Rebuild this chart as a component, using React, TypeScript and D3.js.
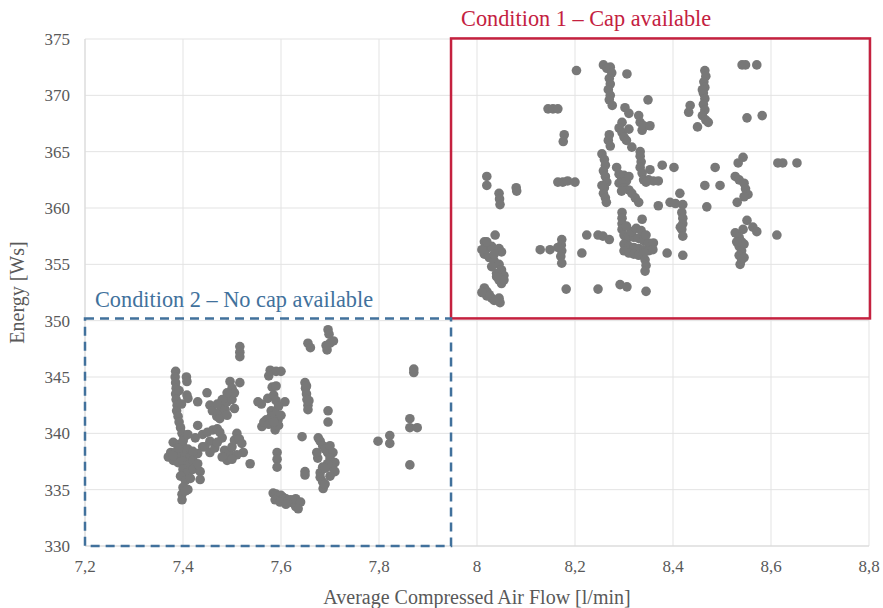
import * as d3 from 'd3';

// Condition 1 – cap available (x: l/min, y: Ws)
const capLeft: [number, number][] = [
    [8.02, 362.8], [8.02, 362.0], [8.045, 361.3], [8.046, 360.8], [8.047, 360.3], [8.08, 361.8], [8.081, 361.5],
    [8.037, 357.6], [8.015, 357.0], [8.02, 356.4], [8.03, 356.6], [8.045, 356.4], [8.05, 356.1], [8.015, 355.9],
    [8.025, 355.6], [8.035, 355.3], [8.045, 355.0], [8.05, 354.5], [8.055, 354.0], [8.03, 354.8], [8.04, 354.2],
    [8.045, 353.6], [8.05, 353.3], [8.055, 353.6], [8.04, 353.9], [8.035, 355.9], [8.02, 357.0], [8.01, 356.3],
    [8.015, 352.9], [8.02, 352.6], [8.025, 352.3], [8.03, 352.0], [8.035, 351.8], [8.047, 351.6], [8.02, 352.2],
    [8.01, 352.5], [8.045, 352.0],
];

const capMiddle: [number, number][] = [
    [8.129, 356.3], [8.149, 356.3], [8.173, 357.2], [8.172, 356.7], [8.173, 356.2], [8.171, 355.7], [8.173, 355.1],
    [8.165, 356.5], [8.182, 352.8], [8.165, 362.3], [8.175, 362.3], [8.185, 362.4], [8.2, 362.3], [8.178, 366.5],
    [8.176, 365.9], [8.145, 368.8], [8.155, 368.8], [8.165, 368.8], [8.203, 372.2], [8.214, 356.0], [8.224, 357.6],
    [8.247, 357.6], [8.257, 357.5], [8.27, 357.2], [8.247, 352.8], [8.292, 353.2], [8.306, 353.0], [8.345, 352.6],
    [8.258, 372.7], [8.265, 372.4], [8.272, 372.5], [8.275, 372.0], [8.27, 371.5], [8.272, 371.0], [8.268, 370.5],
    [8.272, 370.0], [8.27, 369.6], [8.276, 369.1], [8.306, 371.9], [8.349, 369.6], [8.302, 368.9], [8.31, 368.4],
    [8.33, 368.2], [8.333, 367.6], [8.337, 366.9], [8.34, 367.3], [8.353, 367.3], [8.296, 367.6], [8.29, 367.1],
    [8.296, 366.7], [8.3, 366.3], [8.305, 366.0], [8.316, 365.4], [8.31, 367.0], [8.27, 366.5], [8.268, 366.0],
    [8.272, 365.5],
    [8.255, 364.8], [8.26, 364.3], [8.262, 363.8], [8.258, 363.3], [8.262, 362.8], [8.265, 362.3], [8.26, 361.8],
    [8.258, 361.3], [8.262, 360.9], [8.264, 360.5], [8.255, 362.0],
    [8.29, 363.0], [8.295, 362.7], [8.3, 362.9], [8.305, 362.4], [8.31, 362.8], [8.29, 362.2], [8.3, 361.8],
    [8.31, 361.6], [8.295, 361.5], [8.285, 363.6],
    [8.333, 365.0], [8.333, 364.6], [8.335, 364.1], [8.333, 363.6], [8.337, 363.1], [8.353, 363.4],
    [8.34, 362.5], [8.35, 362.5], [8.36, 362.4], [8.37, 362.4], [8.345, 362.3], [8.378, 363.8], [8.402, 363.6],
    [8.316, 361.3], [8.323, 360.9], [8.33, 360.5], [8.37, 360.2], [8.394, 360.5], [8.405, 360.4], [8.42, 360.3],
    [8.414, 361.3], [8.418, 359.6], [8.42, 359.1], [8.42, 358.6], [8.418, 358.1], [8.42, 357.5], [8.415, 358.3],
    [8.337, 359.0],
    [8.296, 359.6], [8.296, 359.1], [8.296, 358.6], [8.296, 358.1], [8.3, 357.6], [8.305, 357.2], [8.31, 357.5],
    [8.32, 357.4], [8.33, 357.3], [8.34, 357.1], [8.35, 356.9], [8.36, 356.9], [8.3, 356.8], [8.31, 356.6],
    [8.32, 356.5], [8.33, 356.4], [8.34, 356.3], [8.35, 356.2], [8.359, 356.3], [8.3, 356.2], [8.31, 356.0],
    [8.32, 355.9], [8.33, 355.8], [8.34, 356.0], [8.315, 357.9], [8.325, 358.2], [8.335, 358.0], [8.305, 358.4],
    [8.345, 357.6], [8.343, 355.4], [8.345, 354.9], [8.343, 354.4], [8.388, 356.0], [8.42, 355.8],
];

const capRight: [number, number][] = [
    [8.465, 372.2], [8.467, 371.7], [8.463, 371.2], [8.465, 370.7], [8.462, 370.2], [8.465, 369.7], [8.462, 369.2],
    [8.465, 368.7], [8.46, 368.2], [8.467, 367.8], [8.472, 367.6], [8.46, 370.5], [8.435, 369.1], [8.432, 368.5],
    [8.45, 367.2], [8.541, 372.7], [8.548, 372.7], [8.571, 372.7], [8.551, 368.0], [8.582, 368.2], [8.614, 364.0],
    [8.624, 364.0], [8.653, 364.0], [8.543, 364.5], [8.533, 364.0], [8.486, 363.6], [8.465, 362.0], [8.496, 362.0],
    [8.469, 360.1], [8.527, 362.8], [8.535, 362.5], [8.545, 362.2], [8.548, 361.7], [8.553, 361.2], [8.545, 361.0],
    [8.531, 360.5], [8.551, 358.9], [8.563, 358.3], [8.571, 357.9], [8.612, 357.6], [8.543, 358.1],
    [8.527, 357.8], [8.535, 357.4], [8.54, 357.0], [8.535, 356.6], [8.54, 356.2], [8.535, 355.8], [8.54, 355.4],
    [8.537, 355.0], [8.545, 356.8], [8.53, 357.0], [8.545, 355.6],
];

// Condition 2 – no cap available
const noCapLeft: [number, number][] = [
    [7.385, 345.5], [7.384, 345.0], [7.385, 344.5], [7.386, 344.0], [7.385, 343.5], [7.386, 343.0], [7.388, 342.5],
    [7.387, 342.0], [7.39, 341.5], [7.392, 341.0], [7.395, 340.5], [7.398, 340.0], [7.402, 339.6], [7.407, 345.0],
    [7.408, 344.6], [7.408, 343.4], [7.41, 343.1], [7.397, 342.6], [7.392, 343.8],
    [7.38, 339.2], [7.39, 339.0], [7.4, 338.8], [7.41, 338.6], [7.375, 338.3], [7.385, 338.3], [7.395, 338.1],
    [7.405, 338.0], [7.415, 337.9], [7.37, 337.9], [7.38, 337.6], [7.39, 337.4], [7.4, 337.5], [7.41, 337.2],
    [7.42, 337.6], [7.43, 338.2], [7.42, 338.4], [7.4, 336.8], [7.41, 336.5], [7.395, 336.2], [7.405, 335.8],
    [7.415, 336.0], [7.42, 336.8], [7.435, 336.6], [7.435, 335.9], [7.41, 335.0], [7.4, 335.2], [7.398, 334.6],
    [7.398, 334.1], [7.405, 334.9], [7.39, 338.7], [7.38, 338.0], [7.4, 339.3], [7.41, 339.9], [7.43, 340.7],
    [7.425, 339.6], [7.44, 338.8], [7.43, 337.3], [7.43, 342.8],
];

const noCapMiddle: [number, number][] = [
    [7.449, 343.6], [7.455, 342.5], [7.46, 342.0], [7.469, 341.5], [7.475, 341.9], [7.48, 342.4], [7.486, 342.1],
    [7.49, 342.8], [7.495, 343.3], [7.5, 343.0], [7.496, 344.6], [7.5, 344.0], [7.505, 343.6], [7.49, 343.6],
    [7.48, 343.0], [7.47, 342.6], [7.475, 341.3], [7.49, 341.6], [7.516, 344.5], [7.505, 342.2],
    [7.516, 347.7], [7.516, 347.2], [7.516, 346.8],
    [7.44, 339.9], [7.45, 340.1], [7.461, 340.3], [7.47, 340.4], [7.475, 340.1], [7.48, 339.6], [7.455, 339.3],
    [7.445, 338.8], [7.455, 338.3], [7.465, 338.7], [7.47, 339.2], [7.485, 338.5], [7.49, 337.6], [7.495, 338.2],
    [7.5, 338.8], [7.505, 339.4], [7.51, 340.0], [7.515, 339.5], [7.52, 339.1], [7.523, 338.3], [7.51, 338.1],
    [7.5, 337.7], [7.537, 337.3], [7.48, 337.9],
    [7.578, 345.6], [7.59, 345.5], [7.6, 345.5], [7.575, 345.1], [7.582, 344.1], [7.59, 344.2], [7.573, 343.1],
    [7.553, 342.8], [7.56, 342.6], [7.585, 343.4], [7.59, 342.9], [7.608, 342.8], [7.595, 342.4], [7.58, 342.0],
    [7.59, 341.7], [7.58, 341.5], [7.594, 341.2], [7.57, 341.2], [7.561, 340.6], [7.565, 341.0], [7.575, 340.8],
    [7.588, 340.3], [7.595, 340.7], [7.6, 341.6], [7.585, 341.0],
    [7.592, 338.3], [7.592, 337.7], [7.592, 337.0],
    [7.584, 334.7], [7.59, 334.6], [7.595, 334.4], [7.6, 334.5], [7.605, 334.3], [7.61, 334.2], [7.615, 334.0],
    [7.62, 334.1], [7.625, 333.8], [7.63, 333.5], [7.63, 334.2], [7.64, 333.9], [7.635, 333.3], [7.588, 334.1],
    [7.598, 333.9], [7.61, 333.7],
];

const noCapRight: [number, number][] = [
    [7.649, 344.5], [7.65, 344.0], [7.652, 343.5], [7.653, 343.0], [7.655, 342.5], [7.655, 342.1], [7.657, 342.9],
    [7.652, 344.2], [7.655, 348.0], [7.66, 347.6], [7.696, 349.2], [7.698, 348.8], [7.694, 347.4], [7.7, 348.0],
    [7.707, 348.2], [7.692, 347.8], [7.696, 342.0], [7.696, 341.0], [7.643, 339.7], [7.649, 336.6], [7.649, 336.3],
    [7.676, 339.6], [7.68, 339.3], [7.685, 338.9], [7.69, 338.6], [7.695, 338.3], [7.706, 338.3], [7.7, 337.8],
    [7.71, 337.4], [7.705, 337.0], [7.71, 336.6], [7.695, 337.3], [7.685, 337.0], [7.68, 336.5], [7.68, 336.1],
    [7.685, 335.7], [7.686, 335.1], [7.69, 335.5], [7.7, 336.2], [7.69, 336.9], [7.675, 337.8], [7.673, 338.3],
    [7.7, 338.9],
    [7.798, 339.3], [7.822, 339.8], [7.822, 339.1], [7.863, 341.3], [7.863, 340.5], [7.878, 340.5], [7.863, 337.2],
    [7.871, 345.7], [7.871, 345.4],
];

const xTicks = [7.2, 7.4, 7.6, 7.8, 8, 8.2, 8.4, 8.6, 8.8];
const yTicks = [330, 335, 340, 345, 350, 355, 360, 365, 370, 375];

// condition regions [x0, x1, y0, y1]
const cond1Box = [7.947, 8.802, 350.2, 375.05];
const cond2Box = [7.2, 7.947, 330, 350.2];

const width = 883;
const height = 608;
const margin = { top: 39, right: 14, bottom: 62, left: 85 };
const font = '"Liberation Serif", "Times New Roman", serif';

const App = () => {
    const x = d3.scaleLinear().domain([7.2, 8.8]).range([margin.left, width - margin.right]);
    const y = d3.scaleLinear().domain([330, 375]).range([height - margin.bottom, margin.top]);
    const points = [...capLeft, ...capMiddle, ...capRight, ...noCapLeft, ...noCapMiddle, ...noCapRight];

    return (
        <svg
            width={width}
            height={height}
            style={{ position: 'fixed', left: 0, top: 0, background: '#fff' }}
            fontFamily={font}
        >
            {/* grid */}
            {xTicks.map(t => (
                <line key={'gx' + t} x1={x(t)} x2={x(t)} y1={y(375)} y2={y(330)} stroke="#e3e3e3" strokeWidth={1} />
            ))}
            {yTicks.map(t => (
                <line key={'gy' + t} x1={x(7.2)} x2={x(8.8)} y1={y(t)} y2={y(t)} stroke="#e3e3e3" strokeWidth={1} />
            ))}
            <line x1={x(7.2)} x2={x(7.2)} y1={y(375)} y2={y(330)} stroke="#d9d9d9" />
            <line x1={x(7.2)} x2={x(8.8)} y1={y(330)} y2={y(330)} stroke="#d9d9d9" />

            {/* tick labels */}
            {yTicks.map(t => (
                <text key={'ly' + t} x={x(7.2) - 15} y={y(t)} dy="0.35em" textAnchor="end" fontSize={17} fill="#595959">
                    {t}
                </text>
            ))}
            {xTicks.map(t => (
                <text key={'lx' + t} x={x(t)} y={y(330) + 26} textAnchor="middle" fontSize={17} fill="#595959">
                    {d3.format('~g')(t).replace('.', ',')}
                </text>
            ))}

            {/* points */}
            {points.map((d, i) => (
                <circle key={i} cx={x(d[0])} cy={y(d[1])} r={4.8} fill="#787878" />
            ))}

            {/* condition boxes */}
            <rect
                x={x(cond1Box[0])}
                y={y(cond1Box[3])}
                width={x(cond1Box[1]) - x(cond1Box[0])}
                height={y(cond1Box[2]) - y(cond1Box[3])}
                fill="none"
                stroke="#c4213f"
                strokeWidth={2.5}
            />
            <rect
                x={x(cond2Box[0])}
                y={y(cond2Box[3])}
                width={x(cond2Box[1]) - x(cond2Box[0])}
                height={y(cond2Box[2]) - y(cond2Box[3])}
                fill="none"
                stroke="#41719c"
                strokeWidth={2.5}
                strokeDasharray="9,6"
            />
            <text x={x(cond1Box[0]) + 10} y={y(cond1Box[3]) - 12} fontSize={22.3} fill="#c4213f">
                Condition 1 – Cap available
            </text>
            <text x={x(cond2Box[0]) + 10} y={y(cond2Box[3]) - 11} fontSize={22.3} fill="#41719c">
                Condition 2 – No cap available
            </text>

            {/* axis titles */}
            <text x={(x(7.2) + x(8.8)) / 2} y={height - 4} textAnchor="middle" fontSize={20} fill="#595959">
                Average Compressed Air Flow [l/min]
            </text>
            <text
                transform={`translate(24,${(y(330) + y(375)) / 2}) rotate(-90)`}
                textAnchor="middle"
                fontSize={20}
                fill="#595959"
            >
                Energy [Ws]
            </text>
        </svg>
    );
};

export default App;
